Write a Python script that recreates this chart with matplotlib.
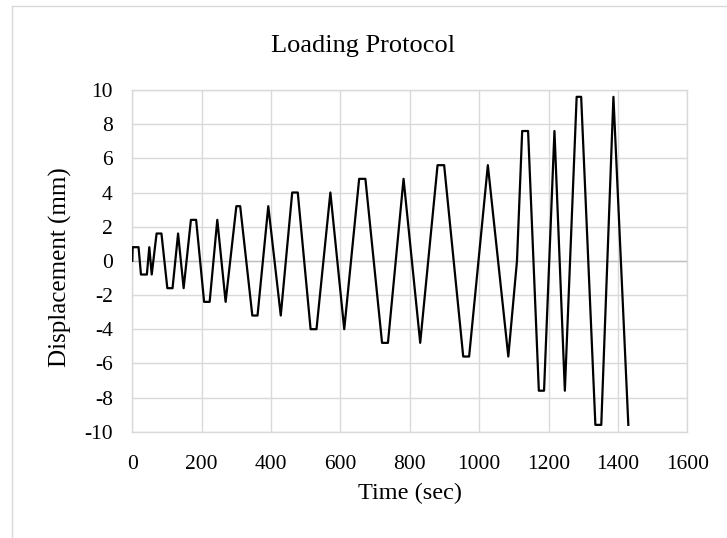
import matplotlib.pyplot as plt
from matplotlib.lines import Line2D

# === Data ===
time_sec = [0, 1, 18, 25, 42, 49, 56, 70, 84, 101, 116, 132, 148, 169, 184,
            207, 223, 245, 269, 300, 311, 346, 361, 392, 428, 461, 477, 514,
            531, 571, 611, 654, 672, 720, 737, 782, 830, 880, 899, 954, 971,
            1025, 1084, 1109, 1124, 1141, 1172, 1187, 1217, 1247, 1281, 1294,
            1335, 1352, 1387, 1430]
disp_mm = [0, 0.8, 0.8, -0.8, -0.8, 0.8, -0.8, 1.6, 1.6, -1.6, -1.6, 1.6, -1.6,
           2.4, 2.4, -2.4, -2.4, 2.4, -2.4, 3.2, 3.2, -3.2, -3.2, 3.2, -3.2,
           4.0, 4.0, -4.0, -4.0, 4.0, -4.0, 4.8, 4.8, -4.8, -4.8, 4.8, -4.8,
           5.6, 5.6, -5.6, -5.6, 5.6, -5.6, 0, 7.6, 7.6, -7.6, -7.6, 7.6, -7.6,
           9.6, 9.6, -9.6, -9.6, 9.6, -9.6]
x_ticks = [0, 200, 400, 600, 800, 1000, 1200, 1400, 1600]
y_ticks = [-10, -8, -6, -4, -2, 0, 2, 4, 6, 8, 10]

plt.rcParams['font.family'] = ['Liberation Serif', 'DejaVu Serif']
plt.rcParams['axes.unicode_minus'] = False

W, H = 727, 538
fig = plt.figure(figsize=(W / 100, H / 100), dpi=100)
ax = fig.add_axes([132.3 / W, 1 - 431.7 / H, (687.3 - 132.3) / W, (431.7 - 90) / H])

grid_c = '#d9d9d9'
ax.plot(time_sec, disp_mm, color='black', lw=1.6, zorder=3)
ax.axhline(0, color='#bfbfbf', lw=1.0, zorder=2)

ax.set_xlim(0, 1600)
ax.set_ylim(-10, 10)
ax.set_xticks(x_ticks)
ax.set_yticks(y_ticks)
ax.grid(True, color=grid_c, lw=1.0)
ax.set_axisbelow(True)
for s in ax.spines.values():
    s.set_color(grid_c)
    s.set_linewidth(1.0)
ax.tick_params(length=0, labelsize=15.5, colors='black')
ax.tick_params(axis='x', pad=17)
ax.tick_params(axis='y', pad=14)

# title is centred on the whole chart area, not the plot area
fig.text(363.5 / W, 1 - 52 / H, "Loading Protocol", fontsize=19,
         ha='center', va='baseline')
ax.set_xlabel("Time (sec)", fontsize=17.5, labelpad=6)
ax.set_ylabel("Displacement (mm)", fontsize=18)
ax.yaxis.set_label_coords(-(132.3 - 72) / (687.3 - 132.3), (431.7 - 267) / (431.7 - 90))

# light chart-area frame
fig.add_artist(Line2D([12 / W, 12 / W], [0, 1 - 6 / H], color=grid_c, lw=1.0))
fig.add_artist(Line2D([12 / W, 1], [1 - 6 / H, 1 - 6 / H], color=grid_c, lw=1.0))

fig.savefig("out.png", dpi=100)
